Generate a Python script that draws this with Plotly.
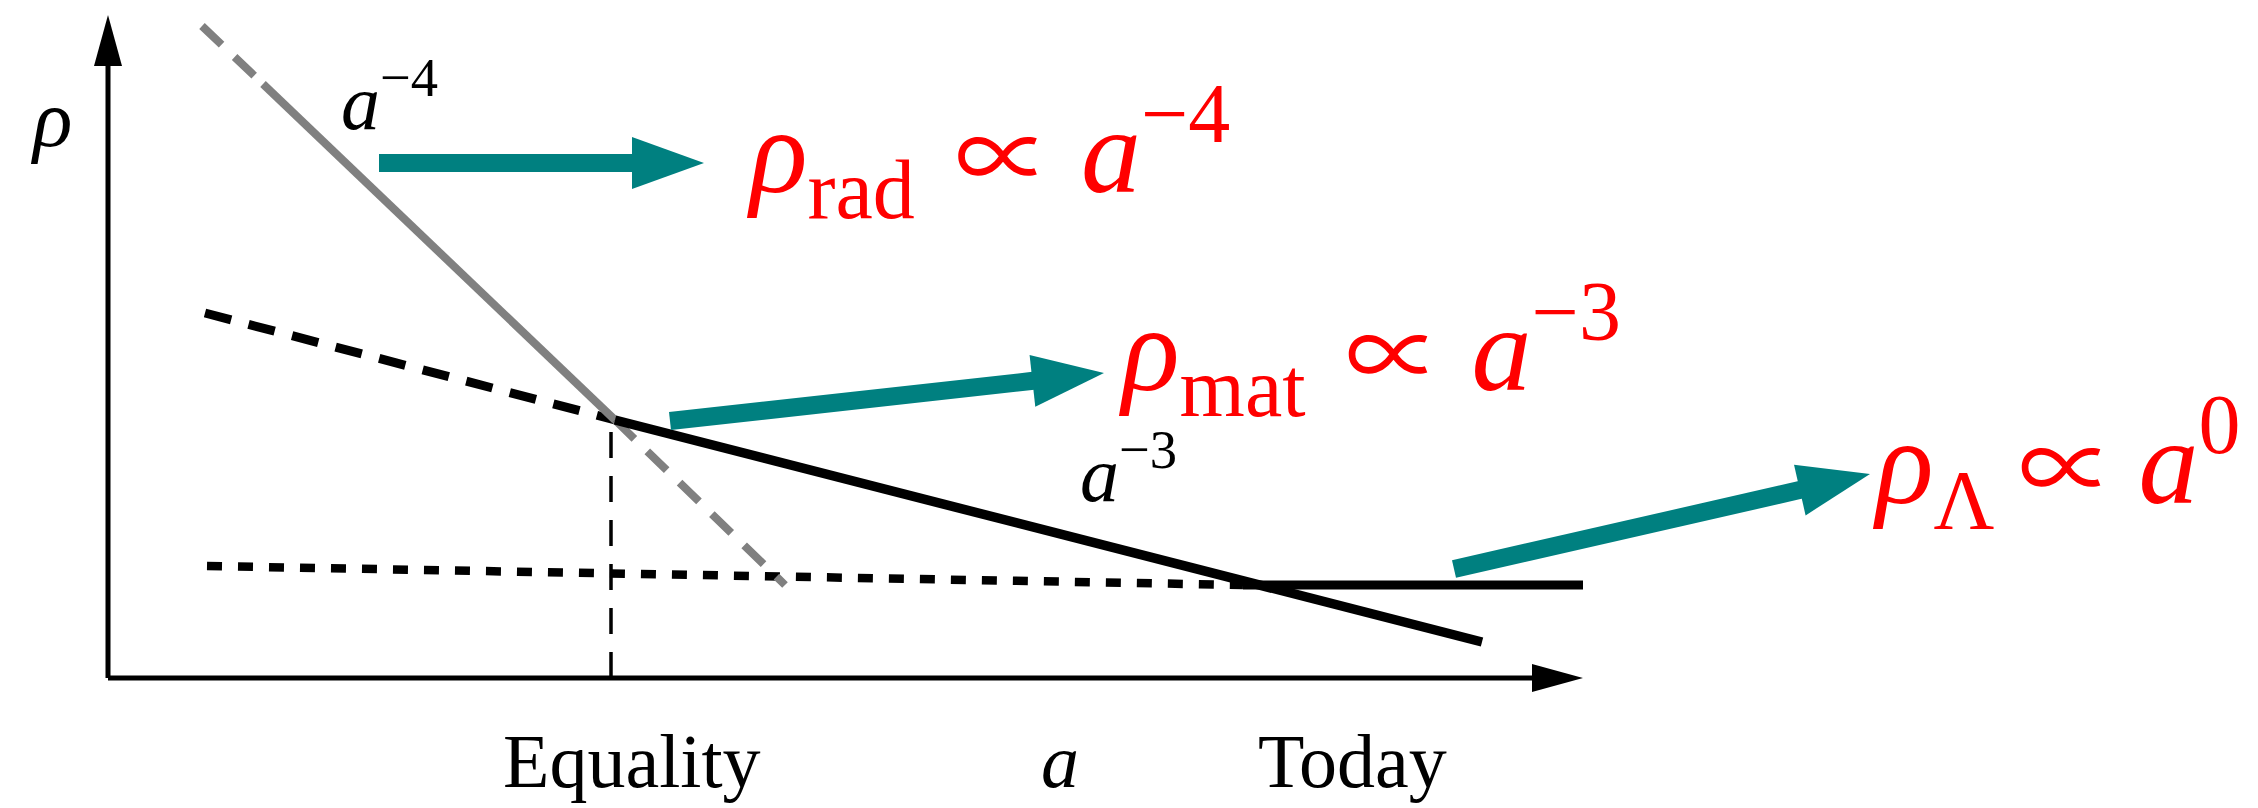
import math
import plotly.graph_objects as go

# Schematic of log(rho) against log(a): radiation, matter and dark energy eras.
# Diagram units: origin at the corner of the axes, 100 px per unit on both axes.
FIG_W, FIG_H = 2258, 808
X_RANGE = [-1.08, 21.50]
Y_RANGE = [-1.30, 6.78]

# axes (arrow tips)
axis_x_end = 14.75
axis_y_end = 6.63

# radiation, rho ~ a^-4 (grey): dashed before, solid while dominant, dashed after
rad_early_x = [0.94, 1.55]
rad_early_y = [6.52, 5.94]
rad_dom_x = [1.55, 5.07]
rad_dom_y = [5.94, 2.58]
rad_late_x = [5.07, 6.77]
rad_late_y = [2.58, 0.93]

# matter, rho ~ a^-3 (black)
mat_early_x = [0.97, 5.07]
mat_early_y = [3.65, 2.58]
mat_dom_x = [5.07, 13.74]
mat_dom_y = [2.58, 0.36]

# cosmological constant, rho ~ a^0 (black)
lam_early_x = [0.99, 11.35]
lam_early_y = [1.12, 0.93]
lam_dom_x = [11.35, 14.75]
lam_dom_y = [0.93, 0.93]

# radiation-matter equality marker
equality_x = [5.03, 5.03]
equality_y = [0.0, 2.48]

# teal pointer arrows: (x_start, y_start, x_tip, y_tip)
pointer_arrows = [
    (2.71, 5.15, 5.96, 5.15),
    (5.62, 2.57, 9.96, 3.05),
    (13.46, 1.09, 17.62, 2.04),
]


def prop(left, right):
    """'proportional to' sign set in a lighter face, with the given spacing."""
    return (left + "<span style=\"font-family:'Noto Sans CJK JP';font-size:96px\">∝</span>"
            + right)


# red formula labels: (text, x_left, y_baseline)
formula_labels = [
    ("<i>ρ</i><sub>rad</sub>" + prop(" \u200a", " ") + "<i>a</i><sup>−4</sup>", 6.36, 4.86),
    ("<i>ρ</i><sub>mat</sub>" + prop(" \u200a", " ") + "<i>a</i><sup>−3</sup>", 10.08, 2.88),
    ("<i>ρ</i><sub>Λ</sub>" + prop("\u2009", "\u2009") + "<i>a</i><sup>0</sup>", 17.62, 1.75),
]

# black slope labels: (text, x_left, y_baseline)
slope_labels = [
    ("<i>a</i><sup>−4</sup>", 2.31, 5.50),
    ("<i>a</i><sup>−3</sup>", 9.70, 1.78),
]

# x-axis captions: (text, x_center)
x_captions = [("Equality", 5.24), ("<i>a</i>", 9.52), ("Today", 12.44)]
caption_baseline = -1.11

TEAL = "#008080"
GREY = "#808080"
SERIF = "Liberation Serif, DejaVu Serif, serif"
RED_SIZE = 120


def head_triangle(x0, y0, x1, y1, length, width):
    """Return the shaft end point and the closed triangle for an arrow head."""
    dx, dy = x1 - x0, y1 - y0
    n = math.hypot(dx, dy)
    ux, uy = dx / n, dy / n
    px, py = -uy, ux
    bx, by = x1 - ux * length, y1 - uy * length
    tx = [bx + px * width / 2, x1, bx - px * width / 2, bx + px * width / 2]
    ty = [by + py * width / 2, y1, by - py * width / 2, by + py * width / 2]
    return (bx, by), tx, ty


fig = go.Figure()


def line(x, y, color, width, dash="solid"):
    fig.add_trace(go.Scatter(x=x, y=y, mode="lines", hoverinfo="skip",
                             line=dict(color=color, width=width, dash=dash)))


def filled(x, y, color):
    fig.add_trace(go.Scatter(x=x, y=y, mode="lines", fill="toself", fillcolor=color,
                             hoverinfo="skip", line=dict(color=color, width=0)))


# axes with arrow heads
(bx, by), tx, ty = head_triangle(0, 0, axis_x_end, 0, 0.51, 0.28)
line([0, bx], [0, 0], "black", 5)
filled(tx, ty, "black")
(bx, by), tx, ty = head_triangle(0, 0, 0, axis_y_end, 0.51, 0.28)
line([0, 0], [0, by], "black", 5)
filled(tx, ty, "black")

# equality marker
line(equality_x, equality_y, "black", 3.5, "26px,18px")

# background (non-dominant) pieces
line(mat_early_x, mat_early_y, "black", 9, "27px,18px")
line(lam_early_x, lam_early_y, "black", 8.5, "15px,16px")
line(rad_early_x, rad_early_y, GREY, 8, "27px,18px")
line(rad_late_x, rad_late_y, GREY, 8, "27px,18px")

# dominant pieces
line(rad_dom_x, rad_dom_y, GREY, 8)
line(mat_dom_x, mat_dom_y, "black", 9.5)
line(lam_dom_x, lam_dom_y, "black", 9)

# teal pointers
for x0, y0, x1, y1 in pointer_arrows:
    (bx, by), tx, ty = head_triangle(x0, y0, x1, y1, 0.72, 0.52)
    line([x0, bx + (x1 - x0) * 0.002], [y0, by + (y1 - y0) * 0.002], TEAL, 18)
    filled(tx, ty, TEAL)

annotations = []
for text, x, y in formula_labels:
    annotations.append(dict(text=text, x=x, y=y, xref="x", yref="y", showarrow=False,
                            xanchor="left", yanchor="bottom",
                            yshift=-0.30 * RED_SIZE - 10,
                            font=dict(family=SERIF, size=RED_SIZE, color="#ff0000")))
for text, x, y in slope_labels:
    annotations.append(dict(text=text, x=x, y=y, xref="x", yref="y", showarrow=False,
                            xanchor="left", yanchor="bottom", yshift=-0.25 * 78,
                            font=dict(family=SERIF, size=78, color="black")))
for text, x in x_captions:
    annotations.append(dict(text=text, x=x, y=caption_baseline, xref="x", yref="y",
                            showarrow=False, xanchor="center", yanchor="bottom",
                            yshift=-0.216 * 76,
                            font=dict(family=SERIF, size=76, color="black")))
annotations.append(dict(text="<i>ρ</i>", x=-0.57, y=5.60, xref="x", yref="y",
                        showarrow=False, xanchor="center", yanchor="middle",
                        font=dict(family=SERIF, size=82, color="black")))

fig.update_layout(
    width=FIG_W, height=FIG_H,
    margin=dict(l=0, r=0, t=0, b=0),
    paper_bgcolor="white", plot_bgcolor="white",
    showlegend=False,
    xaxis=dict(range=X_RANGE, visible=False, fixedrange=True),
    yaxis=dict(range=Y_RANGE, visible=False, fixedrange=True),
    annotations=annotations,
)

fig.write_html("out.html")
